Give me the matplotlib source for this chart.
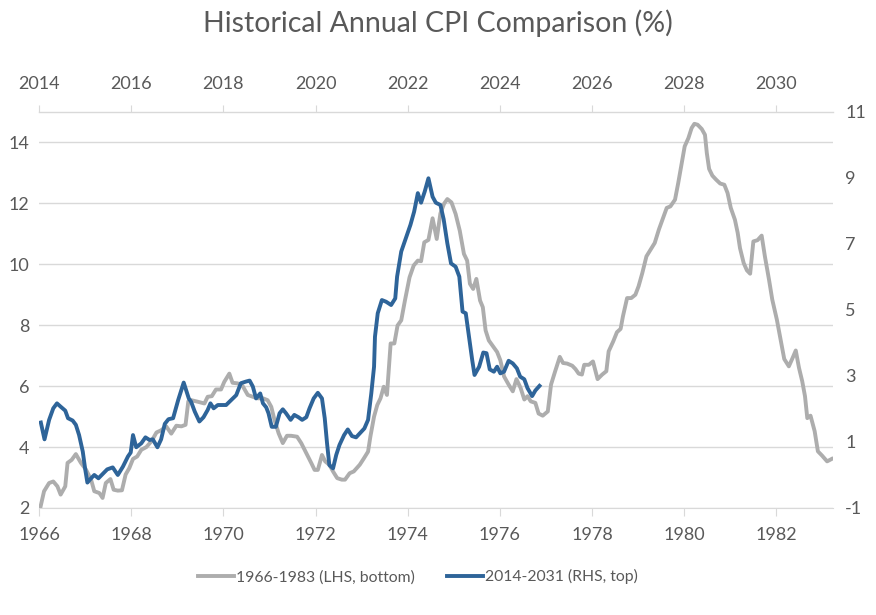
import matplotlib
matplotlib.use("Agg")
import matplotlib.pyplot as plt
from matplotlib.ticker import MultipleLocator

# 1966-1983 annual CPI (%), left axis / bottom axis
gray_years = [
    1966.02, 1966.11, 1966.22, 1966.31, 1966.40, 1966.47, 1966.57, 1966.62, 1966.71, 1966.80,
    1966.91, 1967.02, 1967.13, 1967.20, 1967.31, 1967.38, 1967.45, 1967.55, 1967.62, 1967.71,
    1967.80, 1967.88, 1967.96, 1968.04, 1968.13, 1968.22, 1968.33, 1968.44, 1968.55, 1968.65,
    1968.76, 1968.87, 1968.98, 1969.09, 1969.18, 1969.24, 1969.30, 1969.44, 1969.59, 1969.66,
    1969.75, 1969.84, 1969.95, 1970.02, 1970.13, 1970.20, 1970.31, 1970.42, 1970.53, 1970.64,
    1970.75, 1970.86, 1970.96, 1971.04, 1971.11, 1971.20, 1971.29, 1971.38, 1971.47, 1971.60,
    1971.69, 1971.80, 1971.91, 1971.98, 1972.05, 1972.14, 1972.21, 1972.30, 1972.38, 1972.47,
    1972.57, 1972.64, 1972.74, 1972.83, 1972.96, 1973.05, 1973.14, 1973.19, 1973.27, 1973.34,
    1973.41, 1973.48, 1973.55, 1973.63, 1973.71, 1973.78, 1973.86, 1973.94, 1974.04, 1974.13,
    1974.22, 1974.29, 1974.36, 1974.45, 1974.54, 1974.63, 1974.71, 1974.79, 1974.86, 1974.95,
    1975.04, 1975.13, 1975.22, 1975.29, 1975.35, 1975.42, 1975.49, 1975.57, 1975.63, 1975.69,
    1975.76, 1975.86, 1975.94, 1976.01, 1976.09, 1976.19, 1976.28, 1976.36, 1976.45, 1976.53,
    1976.60, 1976.67, 1976.77, 1976.84, 1976.93, 1977.04, 1977.11, 1977.20, 1977.30, 1977.37,
    1977.46, 1977.57, 1977.64, 1977.71, 1977.78, 1977.83, 1977.93, 1978.02, 1978.12, 1978.22,
    1978.31, 1978.36, 1978.46, 1978.54, 1978.62, 1978.67, 1978.76, 1978.85, 1978.94, 1979.01,
    1979.09, 1979.18, 1979.27, 1979.36, 1979.45, 1979.54, 1979.62, 1979.70, 1979.80, 1979.87,
    1979.94, 1980.01, 1980.09, 1980.16, 1980.22, 1980.29, 1980.38, 1980.45, 1980.49, 1980.54,
    1980.61, 1980.69, 1980.78, 1980.87, 1980.94, 1981.01, 1981.10, 1981.16, 1981.21, 1981.29,
    1981.36, 1981.43, 1981.50, 1981.59, 1981.68, 1981.75, 1981.84, 1981.91, 1982.01, 1982.09,
    1982.17, 1982.27, 1982.35, 1982.42, 1982.49, 1982.56, 1982.62, 1982.67, 1982.74, 1982.83,
    1982.90, 1982.99, 1983.10, 1983.20,
]
gray_cpi = [
    1.95, 2.55, 2.82, 2.87, 2.71, 2.44, 2.71, 3.48, 3.58, 3.77,
    3.48, 3.26, 2.93, 2.55, 2.49, 2.33, 2.82, 2.95, 2.60, 2.57,
    2.58, 3.10, 3.31, 3.61, 3.69, 3.91, 4.00, 4.19, 4.48, 4.55,
    4.68, 4.44, 4.70, 4.68, 4.73, 5.50, 5.54, 5.49, 5.43, 5.65,
    5.67, 5.89, 5.89, 6.14, 6.41, 6.11, 6.09, 6.00, 5.71, 5.65,
    5.60, 5.60, 5.54, 5.32, 4.89, 4.45, 4.13, 4.37, 4.37, 4.34,
    4.13, 3.80, 3.47, 3.25, 3.25, 3.74, 3.53, 3.42, 3.20, 2.98,
    2.93, 2.93, 3.14, 3.20, 3.42, 3.63, 3.85, 4.34, 5.00, 5.38,
    5.60, 5.98, 5.71, 7.40, 7.40, 7.99, 8.16, 8.81, 9.57, 9.96,
    10.12, 10.10, 10.72, 10.80, 11.51, 10.83, 11.67, 11.99, 12.14, 12.03,
    11.65, 11.10, 10.34, 10.12, 9.36, 9.19, 9.52, 8.81, 8.59, 7.83,
    7.50, 7.29, 7.12, 6.85, 6.32, 6.05, 5.83, 6.23, 5.94, 5.56,
    5.67, 5.50, 5.45, 5.10, 5.03, 5.17, 6.05, 6.49, 6.96, 6.76,
    6.74, 6.67, 6.56, 6.41, 6.38, 6.70, 6.70, 6.81, 6.23, 6.38,
    6.49, 7.14, 7.47, 7.77, 7.88, 8.29, 8.89, 8.89, 9.00, 9.28,
    9.71, 10.26, 10.48, 10.70, 11.14, 11.52, 11.85, 11.90, 12.12, 12.67,
    13.27, 13.87, 14.14, 14.47, 14.61, 14.58, 14.44, 14.25, 13.65, 13.13,
    12.91, 12.78, 12.65, 12.61, 12.34, 11.85, 11.46, 11.03, 10.53, 10.04,
    9.80, 9.69, 10.75, 10.79, 10.94, 10.26, 9.49, 8.84, 8.18, 7.53,
    6.89, 6.65, 6.92, 7.17, 6.60, 6.16, 5.67, 4.95, 5.03, 4.52,
    3.86, 3.72, 3.53, 3.61,
]

# 2014-2031 annual CPI (%), right axis / top axis
blue_years = [
    2014.04, 2014.12, 2014.22, 2014.31, 2014.39, 2014.47, 2014.57, 2014.63, 2014.73, 2014.80,
    2014.87, 2014.95, 2015.00, 2015.05, 2015.13, 2015.20, 2015.29, 2015.38, 2015.48, 2015.60,
    2015.71, 2015.82, 2015.93, 2015.99, 2016.04, 2016.11, 2016.22, 2016.31, 2016.40, 2016.47,
    2016.57, 2016.65, 2016.73, 2016.81, 2016.91, 2017.02, 2017.14, 2017.25, 2017.30, 2017.38,
    2017.48, 2017.57, 2017.66, 2017.72, 2017.79, 2017.88, 2017.99, 2018.06, 2018.17, 2018.28,
    2018.38, 2018.49, 2018.57, 2018.64, 2018.71, 2018.80, 2018.86, 2018.93, 2018.98, 2019.05,
    2019.14, 2019.22, 2019.29, 2019.36, 2019.46, 2019.54, 2019.63, 2019.71, 2019.80, 2019.87,
    2019.96, 2020.05, 2020.14, 2020.20, 2020.25, 2020.30, 2020.38, 2020.45, 2020.52, 2020.62,
    2020.70, 2020.79, 2020.88, 2020.96, 2021.06, 2021.14, 2021.21, 2021.27, 2021.29, 2021.35,
    2021.44, 2021.53, 2021.64, 2021.73, 2021.77, 2021.86, 2021.96, 2022.06, 2022.14, 2022.22,
    2022.29, 2022.37, 2022.45, 2022.54, 2022.61, 2022.71, 2022.78, 2022.86, 2022.94, 2023.04,
    2023.12, 2023.19, 2023.26, 2023.33, 2023.40, 2023.45, 2023.55, 2023.64, 2023.71, 2023.78,
    2023.87, 2023.94, 2024.01, 2024.09, 2024.19, 2024.28, 2024.37, 2024.44, 2024.53, 2024.60,
    2024.70, 2024.77, 2024.86,
]
blue_cpi = [
    1.59, 1.08, 1.67, 2.02, 2.17, 2.07, 1.95, 1.72, 1.65, 1.52,
    1.21, 0.71, 0.20, -0.23, -0.10, 0.00, -0.10, 0.03, 0.17, 0.23,
    0.00, 0.25, 0.56, 0.68, 1.21, 0.84, 0.96, 1.14, 1.06, 1.08,
    0.84, 1.08, 1.55, 1.69, 1.72, 2.27, 2.80, 2.32, 2.22, 1.92,
    1.62, 1.75, 1.97, 2.17, 2.02, 2.12, 2.12, 2.12, 2.27, 2.42,
    2.78, 2.83, 2.86, 2.68, 2.32, 2.47, 2.17, 2.05, 1.87, 1.46,
    1.46, 1.87, 1.99, 1.87, 1.67, 1.82, 1.75, 1.67, 1.75, 2.02,
    2.32, 2.49, 2.32, 1.72, 0.96, 0.30, 0.20, 0.61, 0.91, 1.21,
    1.38, 1.18, 1.14, 1.26, 1.41, 1.67, 2.47, 3.28, 4.19, 4.90,
    5.30, 5.25, 5.15, 5.35, 6.01, 6.77, 7.17, 7.58, 7.98, 8.54,
    8.25, 8.59, 8.99, 8.43, 8.25, 8.18, 7.75, 7.02, 6.41, 6.31,
    6.01, 4.95, 4.90, 4.19, 3.48, 3.03, 3.28, 3.71, 3.69, 3.20,
    3.13, 3.28, 3.08, 3.13, 3.46, 3.38, 3.23, 2.98, 2.90, 2.63,
    2.39, 2.56, 2.70,
]

bottom_ticks = list(range(1966, 1983, 2))
top_ticks = list(range(2014, 2031, 2))

GRAY = "#ADADAD"
BLUE = "#2E6499"
TEXT = "#595959"
GRID = "#D9D9D9"
FONT = "Lato"

plt.rcParams["font.family"] = [FONT, "DejaVu Sans"]
plt.rcParams["axes.unicode_minus"] = False

fig = plt.figure(figsize=(8.76, 6.15), dpi=100)
ax = fig.add_axes([0.0445, 0.174, 0.906, 0.644])

# --- left / bottom axis: 1966-1983 ---
ax.plot(gray_years, gray_cpi, color=GRAY, lw=2.8, solid_joinstyle="round",
        label="1966-1983 (LHS, bottom)", zorder=2)
ax.set_xlim(1966, 1983.22)
ax.set_ylim(2, 15)
ax.set_xticks(bottom_ticks)
ax.set_xticklabels([str(t) for t in bottom_ticks])
ax.yaxis.set_major_locator(MultipleLocator(2))
ax.set_yticks(range(2, 15, 2))
ax.grid(axis="y", color=GRID, lw=1.0)
ax.set_axisbelow(True)
for side in ("left", "right", "top"):
    ax.spines[side].set_visible(False)
ax.spines["bottom"].set_color(GRID)
ax.tick_params(axis="x", colors=TEXT, labelsize=13, length=6, color=GRID, pad=8)
ax.tick_params(axis="y", colors=TEXT, labelsize=13, length=0, pad=7)

# --- right / top axis: 2014-2031 ---
ax2 = fig.add_axes(ax.get_position(), frameon=False)
ax2.patch.set_visible(False)
ax2.plot(blue_years, blue_cpi, color=BLUE, lw=2.8, solid_joinstyle="round",
         label="2014-2031 (RHS, top)", zorder=3)
ax2.set_xlim(2014, 2031.22)
ax2.set_ylim(-1, 11)
ax2.xaxis.tick_top()
ax2.yaxis.tick_right()
ax2.set_xticks(top_ticks)
ax2.set_xticklabels([str(t) for t in top_ticks])
ax2.set_yticks(range(-1, 12, 2))
ax2.tick_params(axis="x", colors=TEXT, labelsize=13, length=5, color=GRID, pad=9)
ax2.tick_params(axis="y", colors=TEXT, labelsize=13, length=0, pad=9)
ax2.axhline(11, color=GRID, lw=1.0, clip_on=False)

# --- title ---
fig.text(0.5, 0.963, "Historical Annual CPI Comparison (%)", ha="center", va="center",
         fontsize=20.5, color=TEXT)

# --- legend ---
h1, l1 = ax.get_legend_handles_labels()
h2, l2 = ax2.get_legend_handles_labels()
fig.legend(h1 + h2, l1 + l2, loc="center", bbox_to_anchor=(0.477, 0.062), ncol=2,
           frameon=False, fontsize=11.3, labelcolor=TEXT, handlelength=2.3,
           handletextpad=0.15, columnspacing=2.0)

fig.savefig("out.png", dpi=100, facecolor="white")
